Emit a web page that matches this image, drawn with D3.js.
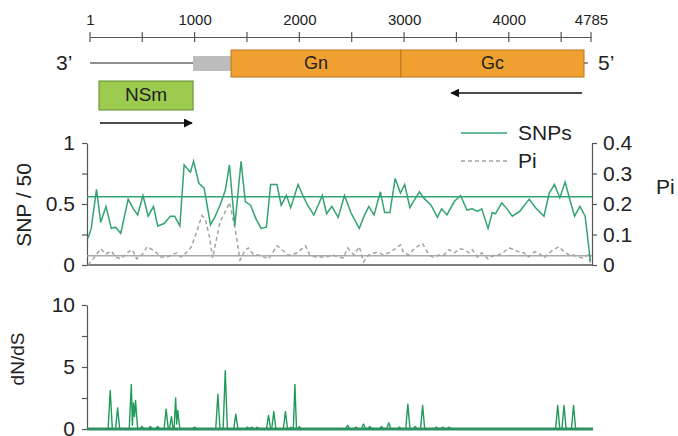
<!DOCTYPE html>
<html>
<head>
<meta charset="utf-8">
<script src="https://cdn.jsdelivr.net/npm/d3@7"></script>
<style>
  body { margin: 0; background: #fff; }
  text { font-family: "Liberation Sans", Arial, sans-serif; fill: #222; }
</style>
</head>
<body>
<div id="chart"></div>
<script>
// genome scale ticks (bp)
const scaleLabels = [1, 1000, 2000, 3000, 4000, 4785];
const scaleMinor = [500, 1500, 2500, 3500, 4500];
const genomeLength = 4785;

// segments: [name, start, end]
const segments = [["", 985, 1348], ["Gn", 1348, 2970], ["Gc", 2970, 4718]];
const nsm = ["NSm", 87, 985];
const arrows = [[96, 975], [4700, 3450]];

// sliding window values, [position, value]
const snps = [[10,0.22],[40,0.30],[90,0.62],[130,0.35],[180,0.48],[230,0.30],[270,0.31],[320,0.26],[390,0.54],[440,0.46],[480,0.41],[530,0.57],[580,0.40],[630,0.48],[670,0.32],[730,0.34],[790,0.40],[830,0.40],[880,0.32],[920,0.82],[980,0.76],[1010,0.85],[1060,0.67],[1110,0.63],[1170,0.33],[1210,0.39],[1260,0.49],[1310,0.61],[1350,0.82],[1400,0.32],[1460,0.85],[1500,0.52],[1550,0.49],[1600,0.38],[1650,0.30],[1700,0.31],[1740,0.66],[1800,0.66],[1840,0.49],[1890,0.57],[1930,0.47],[2000,0.66],[2050,0.56],[2090,0.49],[2150,0.41],[2230,0.57],[2270,0.42],[2320,0.48],[2380,0.39],[2440,0.57],[2500,0.43],[2580,0.30],[2620,0.39],[2670,0.48],[2720,0.41],[2780,0.60],[2820,0.43],[2870,0.43],[2920,0.71],[2970,0.59],[3010,0.66],[3060,0.47],[3100,0.53],[3150,0.60],[3190,0.55],[3260,0.49],[3320,0.39],[3360,0.46],[3410,0.41],[3480,0.52],[3540,0.57],[3600,0.45],[3650,0.46],[3700,0.44],[3740,0.46],[3800,0.30],[3840,0.43],[3870,0.42],[3930,0.51],[3980,0.46],[4030,0.40],[4100,0.44],[4190,0.54],[4250,0.47],[4330,0.40],[4380,0.59],[4430,0.66],[4480,0.55],[4530,0.68],[4580,0.52],[4620,0.40],[4670,0.48],[4720,0.40],[4770,0.03]];
const snpMean = 0.56;

const pi = [[10,0.0],[50,0.016],[100,0.04],[130,0.053],[180,0.036],[230,0.046],[270,0.026],[320,0.02],[380,0.04],[430,0.05],[470,0.02],[520,0.033],[570,0.06],[620,0.05],[660,0.04],[700,0.026],[760,0.026],[800,0.033],[850,0.04],[890,0.026],[940,0.04],[990,0.06],[1030,0.1],[1090,0.162],[1120,0.15],[1160,0.093],[1190,0.023],[1260,0.14],[1310,0.175],[1350,0.205],[1400,0.126],[1450,0.016],[1500,0.05],[1530,0.056],[1580,0.033],[1630,0.033],[1680,0.026],[1720,0.02],[1800,0.063],[1850,0.05],[1900,0.033],[1940,0.033],[1990,0.04],[2070,0.063],[2110,0.033],[2170,0.026],[2230,0.026],[2270,0.026],[2330,0.033],[2380,0.026],[2430,0.023],[2470,0.056],[2530,0.033],[2580,0.06],[2620,0.01],[2670,0.033],[2720,0.04],[2770,0.04],[2810,0.033],[2860,0.04],[2910,0.05],[2970,0.066],[3000,0.04],[3050,0.033],[3090,0.05],[3140,0.063],[3180,0.07],[3240,0.033],[3280,0.026],[3340,0.033],[3380,0.033],[3430,0.05],[3480,0.04],[3530,0.053],[3580,0.05],[3620,0.04],[3650,0.05],[3700,0.026],[3740,0.04],[3800,0.02],[3860,0.033],[3900,0.033],[3950,0.043],[4000,0.056],[4050,0.05],[4090,0.043],[4140,0.04],[4180,0.026],[4240,0.043],[4280,0.04],[4330,0.023],[4380,0.04],[4420,0.05],[4470,0.06],[4520,0.043],[4570,0.033],[4610,0.033],[4660,0.026],[4700,0.023],[4750,0.033],[4770,0.005]];
const piMean = 0.03;

const dnds = [[0,0],[200,0],[220,3.1],[240,0],[270,0],[290,1.7],[310,0],[400,0],[420,3.6],[430,0.3],[440,2.1],[450,1.0],[460,2.3],[480,0],[500,0],[520,0.2],[540,0],[580,0],[600,0.2],[620,0],[650,0],[670,0.2],[690,0],[730,0],[750,1.6],[770,0],[780,0],[800,1.0],[815,0],[825,0],[840,2.5],[850,0.4],[860,1.5],[880,0],[1000,0],[1020,0.15],[1040,0],[1220,0],[1240,2.8],[1260,0],[1290,0],[1310,4.7],[1330,0],[1390,0],[1410,1.2],[1430,0],[1500,0],[1520,0.15],[1540,0],[1560,0.15],[1580,0],[1600,0],[1610,0.15],[1630,0],[1700,0],[1720,1.1],[1740,0],[1750,0],[1770,1.4],[1790,0],[1860,0],[1880,1.4],[1900,0],[1920,0],[1930,0.15],[1950,0],[1955,0],[1970,3.6],[1985,0],[2000,0],[2010,0.2],[2030,0],[2450,0],[2470,0.3],[2490,0],[2530,0],[2550,0.15],[2570,0],[2600,0],[2620,0.4],[2640,0],[2660,0],[2680,0.2],[2700,0],[2770,0],[2790,0.2],[2810,0],[2840,0],[2860,0.5],[2880,0],[2940,0],[2960,0.15],[2980,0],[3020,0],[3040,2.0],[3060,0],[3090,0],[3110,0.2],[3130,0],[3160,0],[3180,1.9],[3200,0],[3290,0],[3310,0.15],[3330,0],[3350,0],[3370,0.15],[3390,0],[3410,0],[3430,0.15],[3450,0],[4440,0],[4460,1.9],[4480,0],[4500,0],[4520,1.9],[4540,0],[4590,0],[4610,1.9],[4630,0],[4785,0]];

const snpTicks = [0, 0.25, 0.5, 0.75, 1];
const piTicks = [0, 0.1, 0.2, 0.3, 0.4];
const dndsTicks = [0, 2.5, 5, 7.5, 10];

const width = 678, height = 436;
const green = "#34a372", darkGreen = "#1f9a58", axisCol = "#555";

const svg = d3.select("#chart").append("svg")
    .attr("width", width)
    .attr("height", height);

// ---- genome map ----
const g = d3.scaleLinear().domain([1, genomeLength]).range([90, 591]);

const scaleAxis = svg.append("g").attr("transform", "translate(0,37)");
scaleAxis.call(d3.axisTop(g).tickValues(scaleLabels).tickSize(0).tickPadding(12).tickFormat(d3.format("d")));
scaleAxis.select(".domain").attr("stroke", axisCol).attr("stroke-width", 1.2);
scaleAxis.selectAll(".tick text").attr("font-size", 15).attr("fill", "#222");
scaleAxis.selectAll("line.t")
    .data(scaleLabels.concat(scaleMinor))
    .enter().append("line")
    .attr("class", "t")
    .attr("x1", d => g(d)).attr("x2", d => g(d))
    .attr("y1", -5).attr("y2", 5)
    .attr("stroke", axisCol).attr("stroke-width", 1.2);

svg.append("line")
    .attr("x1", g(1)).attr("x2", g(genomeLength) - 3)
    .attr("y1", 63).attr("y2", 63)
    .attr("stroke", "#222").attr("stroke-width", 1);

segments.forEach(s => {
    const grey = s[0] === "";
    svg.append("rect")
        .attr("x", g(s[1])).attr("width", g(s[2]) - g(s[1]))
        .attr("y", grey ? 56 : 50).attr("height", grey ? 15 : 27)
        .attr("fill", grey ? "#bcbcbc" : "#f0a030")
        .attr("stroke", grey ? "none" : "#b9751c").attr("stroke-width", 1);
    if (!grey) {
        svg.append("text")
            .attr("x", (g(s[1]) + g(s[2])) / 2).attr("y", 64)
            .attr("text-anchor", "middle").attr("dominant-baseline", "middle")
            .attr("font-size", 18).attr("fill", "#3b2a12")
            .text(s[0]);
    }
});

svg.append("rect")
    .attr("x", g(nsm[1])).attr("width", g(nsm[2]) - g(nsm[1]))
    .attr("y", 81).attr("height", 29)
    .attr("fill", "#9ccb4f").attr("stroke", "#5e8a2c").attr("stroke-width", 1);
svg.append("text")
    .attr("x", (g(nsm[1]) + g(nsm[2])) / 2).attr("y", 96)
    .attr("text-anchor", "middle").attr("dominant-baseline", "middle")
    .attr("font-size", 19).attr("fill", "#1e2a10")
    .text(nsm[0]);

svg.append("text").attr("x", 56).attr("y", 64).attr("dominant-baseline", "middle")
    .attr("font-size", 21).text("3\u2019");
svg.append("text").attr("x", 598).attr("y", 64).attr("dominant-baseline", "middle")
    .attr("font-size", 21).text("5\u2019");

svg.append("defs").append("marker")
    .attr("id", "head").attr("viewBox", "0 0 10 10")
    .attr("refX", 9).attr("refY", 5)
    .attr("markerWidth", 6).attr("markerHeight", 6)
    .attr("orient", "auto")
    .append("path").attr("d", "M0,0L10,5L0,10z").attr("fill", "#111");

const arrowY = [123, 93];
arrows.forEach((a, i) => {
    svg.append("line")
        .attr("x1", g(a[0])).attr("x2", g(a[1]))
        .attr("y1", arrowY[i]).attr("y2", arrowY[i])
        .attr("stroke", "#111").attr("stroke-width", 1.5)
        .attr("marker-end", "url(#head)");
});

// ---- SNP / Pi panel ----
const x = d3.scaleLinear().domain([0, genomeLength]).range([87, 592]);
const ySnp = d3.scaleLinear().domain([0, 1]).range([265, 143]);
const yPi = d3.scaleLinear().domain([0, 0.4]).range([265, 143]);

function styleAxis(sel, size) {
    sel.select(".domain").attr("stroke", axisCol).attr("stroke-width", 1.2);
    sel.selectAll(".tick line").attr("stroke", axisCol).attr("stroke-width", 1.2);
    sel.selectAll(".tick text").attr("font-size", size).attr("fill", "#222");
}

svg.append("g").attr("transform", "translate(87,0)")
    .call(d3.axisLeft(ySnp).tickValues(snpTicks).tickSize(5).tickSizeOuter(0).tickPadding(7)
        .tickFormat(d => d === 0.25 || d === 0.75 ? "" : d3.format("")(d)))
    .call(s => styleAxis(s, 21));

svg.append("g").attr("transform", "translate(592,0)")
    .call(d3.axisRight(yPi).tickValues(piTicks).tickSize(5).tickSizeOuter(0).tickPadding(6)
        .tickFormat(d3.format("")))
    .call(s => styleAxis(s, 21));

svg.append("line")
    .attr("x1", x(0)).attr("x2", x(genomeLength))
    .attr("y1", ySnp(0)).attr("y2", ySnp(0))
    .attr("stroke", axisCol).attr("stroke-width", 1.5);

svg.append("line")
    .attr("x1", x(0)).attr("x2", x(genomeLength))
    .attr("y1", yPi(piMean)).attr("y2", yPi(piMean))
    .attr("stroke", "#aaa").attr("stroke-width", 1.5);

svg.append("path")
    .datum(pi)
    .attr("fill", "none").attr("stroke", "#a3a3a3").attr("stroke-width", 1.5)
    .attr("stroke-dasharray", "4,3")
    .attr("d", d3.line().x(d => x(d[0])).y(d => yPi(d[1])));

svg.append("line")
    .attr("x1", x(0)).attr("x2", x(genomeLength))
    .attr("y1", ySnp(snpMean)).attr("y2", ySnp(snpMean))
    .attr("stroke", green).attr("stroke-width", 1.5);

svg.append("path")
    .datum(snps)
    .attr("fill", "none").attr("stroke", green).attr("stroke-width", 1.5)
    .attr("d", d3.line().x(d => x(d[0])).y(d => ySnp(d[1])));

svg.append("text")
    .attr("transform", "translate(25,205) rotate(-90)")
    .attr("text-anchor", "middle").attr("dominant-baseline", "middle")
    .attr("font-size", 21).text("SNP / 50");
svg.append("text").attr("x", 656).attr("y", 188).attr("dominant-baseline", "middle")
    .attr("font-size", 21).text("Pi");

// legend
const legend = [["SNPs", green, null, 133], ["Pi", "#a3a3a3", "4,3", 161]];
legend.forEach(l => {
    svg.append("line")
        .attr("x1", 461).attr("x2", 507).attr("y1", l[3]).attr("y2", l[3])
        .attr("stroke", l[1]).attr("stroke-width", 1.5)
        .attr("stroke-dasharray", l[2]);
    svg.append("text").attr("x", 518).attr("y", l[3] + 1).attr("dominant-baseline", "middle")
        .attr("font-size", 21).text(l[0]);
});

// ---- dN/dS panel ----
const yD = d3.scaleLinear().domain([0, 10]).range([429, 305]);

svg.append("g").attr("transform", "translate(87,0)")
    .call(d3.axisLeft(yD).tickValues(dndsTicks).tickSize(5).tickSizeOuter(0).tickPadding(7)
        .tickFormat(d => d % 5 === 0 ? d : ""))
    .call(s => styleAxis(s, 21));

svg.append("path")
    .datum(dnds)
    .attr("fill", "none").attr("stroke", darkGreen).attr("stroke-width", 1.4)
    .attr("stroke-linejoin", "round")
    .attr("d", d3.line().x(d => x(d[0])).y(d => yD(d[1])));

svg.append("line")
    .attr("x1", x(0)).attr("x2", x(genomeLength) + 1)
    .attr("y1", yD(0)).attr("y2", yD(0))
    .attr("stroke", "#2f9162").attr("stroke-width", 3);

svg.append("text")
    .attr("transform", "translate(19,359) rotate(-90)")
    .attr("text-anchor", "middle").attr("dominant-baseline", "middle")
    .attr("font-size", 19).text("dN/dS");
</script>
</body>
</html>
